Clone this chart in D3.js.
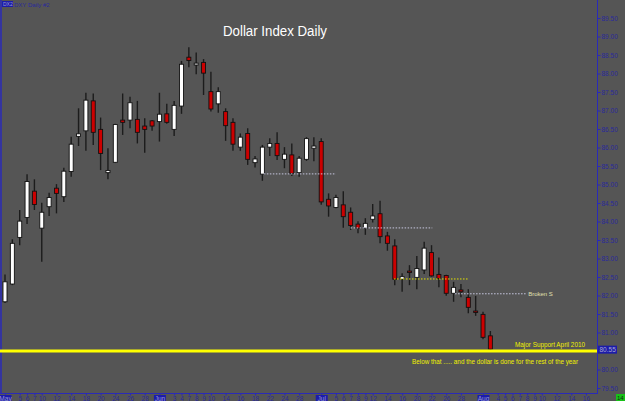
<!DOCTYPE html>
<html>
<head>
<meta charset="utf-8">
<script src="https://cdn.jsdelivr.net/npm/d3@7"></script>
<style>
  body { margin: 0; background: #555555; }
  svg { display: block; }
</style>
</head>
<body>
<div id="chart"></div>
<script>
// daily OHLC, May 3 2010 .. Aug 3 2010
var opens  = [81.83,82.31,83.57,84.11,84.82,83.82,84.40,84.90,84.67,85.35,86.30,86.45,87.26,86.49,85.32,85.60,86.74,86.74,86.76,86.58,86.72,86.70,86.91,86.49,87.12,88.44,88.23,88.30,87.51,87.18,86.97,86.68,86.01,86.38,85.59,85.28,86.01,86.11,85.68,85.80,85.32,85.68,85.98,86.16,84.60,84.38,84.45,84.25,83.93,83.82,84.06,84.21,83.61,83.34,82.44,82.66,82.49,82.69,83.16,82.57,82.54,82.06,82.15,81.95,81.58,81.49,80.91];
var highs  = [82.57,83.52,84.31,85.28,85.14,84.51,84.78,85.01,85.45,86.29,87.06,87.48,87.46,86.81,85.98,86.64,87.46,87.37,87.26,86.79,86.74,87.48,87.18,87.26,88.34,88.71,88.57,88.39,88.05,87.63,87.06,86.79,86.38,86.52,85.77,86.07,86.25,86.41,86.01,86.11,85.77,86.28,86.28,86.25,84.76,84.72,84.82,84.38,84.01,84.09,84.47,84.56,83.72,83.52,82.60,82.82,83.07,83.45,83.36,83.03,82.56,82.37,82.31,82.17,81.99,81.56,81.04];
var lows   = [81.80,82.28,83.36,83.93,84.31,82.91,84.15,84.22,84.53,85.21,86.04,85.91,86.07,85.39,85.14,85.58,86.34,86.52,86.11,85.86,86.45,86.16,86.64,86.31,86.91,88.17,87.98,87.42,86.97,86.94,86.18,85.91,85.91,85.53,85.46,85.10,85.77,85.66,85.44,85.23,85.21,85.64,85.63,84.45,84.13,84.36,83.83,83.77,83.68,83.64,83.97,83.41,83.21,82.28,82.10,82.28,82.17,82.58,82.51,82.22,81.99,81.83,81.95,81.52,81.45,80.82,80.53];
var closes = [82.37,83.41,84.01,85.08,84.46,84.25,84.65,84.76,85.36,86.09,86.37,87.28,86.41,85.84,85.38,86.62,86.68,87.21,86.41,86.49,86.58,86.90,86.68,87.14,88.25,88.35,88.28,88.01,87.04,87.51,86.59,86.09,86.28,85.68,85.69,86.01,86.11,85.78,85.82,85.30,85.71,86.24,86.04,84.53,84.42,84.65,84.13,83.89,83.82,83.95,84.15,83.59,83.41,82.44,82.51,82.62,82.73,83.28,82.53,82.46,82.06,82.22,82.10,81.68,81.54,80.87,80.55];

// x-axis labels by bar index
var tickIdx  = [0,2,3,4,5,7,9,11,13,15,17,19,21,23,24,25,26,27,28,30,32,34,36,38,40,43,45,46,47,48,49,50,52,54,56,58,60,62,65,67,68,69,70,71,72,73,75,77,79];
var tickText = ["May","5","6","7","10","12","14","18","20","24","26","28","Jun","3","4","7","8","9","10","14","16","18","22","24","28","Jul","5","6","7","8","9","12","14","16","20","22","26","28","Aug","4","5","6","7","8","9","10","12","14","16"];
var monthNames = ["May","Jun","Jul","Aug"];

var priceTicks = [79.5,80,80.5,81,81.5,82,82.5,83,83.5,84,84.5,85,85.5,86,86.5,87,87.5,88,88.5,89,89.5];

// drawn levels
var levelValues = [85.30, 83.84, 82.46, 82.06];
var levelStart  = [35.2, 47.0, 52.9, 61.2];
var levelEnd    = [45.0, 58.1, 63.0, 71.0];
var supportValue = 80.50;
var lastPrice = 80.55;

var width = 625, height = 401;
var axisX = 597, axisY = 393;

var svg = d3.select('#chart').append('svg')
    .attr('width', width)
    .attr('height', height)
    .style('font-family', 'Arial, "Liberation Sans", sans-serif');

svg.append('rect').attr('width', width).attr('height', height).attr('fill', '#555555');

var x = d3.scaleLinear().domain([0, 80.5]).range([5, axisX]);
var y = d3.scaleLinear().domain([79.5, 89.5]).range([388, 18]);

// frame lines
svg.append('line').attr('x1', 1).attr('x2', 1).attr('y1', 0).attr('y2', axisY)
    .attr('stroke', '#2a2ab8').attr('stroke-width', 1.5);
svg.append('line').attr('x1', axisX + 0.5).attr('x2', axisX + 0.5).attr('y1', 0).attr('y2', axisY)
    .attr('stroke', '#2a2ab8').attr('stroke-width', 1);
svg.append('line').attr('x1', 0).attr('x2', axisX + 1).attr('y1', axisY + 0.5).attr('y2', axisY + 0.5)
    .attr('stroke', '#2a2ab8').attr('stroke-width', 1);

// price axis
var yAxis = svg.append('g')
    .attr('transform', 'translate(' + (axisX + 0.5) + ',0)')
    .call(d3.axisRight(y).tickValues(priceTicks).tickFormat(d3.format('.2f')).tickSize(3).tickPadding(1));
yAxis.select('.domain').remove();
yAxis.selectAll('line').attr('stroke', '#2a2ab8');
yAxis.selectAll('text').attr('fill', '#2a2a9c').attr('font-size', 6.5);
// the tick under the last-price marker is covered in the original
yAxis.selectAll('.tick').filter(function(d){ return Math.abs(d - lastPrice) < 0.2; })
    .select('text').remove();

// time axis
var xAxis = svg.append('g')
    .attr('transform', 'translate(0,' + (axisY + 0.5) + ')')
    .call(d3.axisBottom(x).tickValues(tickIdx).tickFormat(function(d, i){ return tickText[i]; }).tickSize(2).tickPadding(1));
xAxis.select('.domain').remove();
xAxis.selectAll('line').attr('stroke', '#2a2ab8');
xAxis.selectAll('text').attr('fill', '#2a2a9c').attr('font-size', 6.5);
xAxis.selectAll('.tick').each(function(d, i){
    if (monthNames.indexOf(tickText[i]) >= 0) {
        var g = d3.select(this);
        g.insert('rect', 'text')
            .attr('x', -6).attr('y', 1.5).attr('width', 12).attr('height', 7)
            .attr('fill', '#1c1caa');
        g.select('text').attr('fill', '#9a9ad0');
    }
});

// candles
var bars = d3.range(opens.length).map(function(i){
    return { i: i, o: opens[i], h: highs[i], l: lows[i], c: closes[i] };
});

svg.append('g').selectAll('line')
    .data(bars).enter().append('line')
    .attr('x1', function(d){ return x(d.i); })
    .attr('x2', function(d){ return x(d.i); })
    .attr('y1', function(d){ return y(d.h); })
    .attr('y2', function(d){ return y(d.l); })
    .attr('stroke', '#1c1c1c')
    .attr('stroke-width', 1.4);

svg.append('g').selectAll('rect')
    .data(bars).enter().append('rect')
    .attr('x', function(d){ return x(d.i) - 2; })
    .attr('width', 4)
    .attr('y', function(d){ return y(Math.max(d.o, d.c)); })
    .attr('height', function(d){ return Math.max(1, Math.abs(y(d.o) - y(d.c))); })
    .attr('fill', function(d){ return d.c >= d.o ? '#ffffff' : '#cc0000'; })
    .attr('stroke', '#111111')
    .attr('stroke-width', 0.9);

// dotted levels
svg.append('g').selectAll('line')
    .data(levelValues).enter().append('line')
    .attr('x1', function(d, i){ return x(levelStart[i]); })
    .attr('x2', function(d, i){ return x(levelEnd[i]); })
    .attr('y1', function(d){ return y(d) + 0.5; })
    .attr('y2', function(d){ return y(d) + 0.5; })
    .attr('stroke', function(d, i){ return i == 2 ? '#e4e400' : '#c8c8e0'; })
    .attr('stroke-width', 1)
    .attr('stroke-dasharray', '1.5,1.5');

svg.append('text')
    .attr('x', x(levelEnd[3]) + 1).attr('y', y(levelValues[3]) + 2.5)
    .attr('fill', '#e0e0b0').attr('font-size', 6)
    .text('Broken S');

// major support
svg.append('line')
    .attr('x1', 0).attr('x2', axisX)
    .attr('y1', y(supportValue)).attr('y2', y(supportValue))
    .attr('stroke', '#ffff00').attr('stroke-width', 3);

svg.append('text')
    .attr('x', 515).attr('y', 347)
    .attr('fill', '#f0f000').attr('font-size', 8)
    .attr('textLength', 70).attr('lengthAdjust', 'spacingAndGlyphs')
    .text('Major Support April 2010');

svg.append('text')
    .attr('x', 412).attr('y', 364)
    .attr('fill', '#f0f000').attr('font-size', 8)
    .attr('textLength', 166).attr('lengthAdjust', 'spacingAndGlyphs')
    .text('Below that ..... and the dollar is done for the rest of the year');

// last price marker
svg.append('rect')
    .attr('x', axisX + 1).attr('y', y(lastPrice) - 3.5).attr('width', 19).attr('height', 8)
    .attr('fill', '#1c1caa');
svg.append('text')
    .attr('x', axisX + 2.5).attr('y', y(lastPrice) + 2.8)
    .attr('fill', '#a8a8d0').attr('font-size', 6.5)
    .text(d3.format('.2f')(lastPrice));

// corner box
svg.append('rect').attr('x', 616).attr('y', 394).attr('width', 9).attr('height', 7).attr('fill', '#18c018');
svg.append('text').attr('x', 617).attr('y', 400).attr('fill', '#103010').attr('font-size', 6).text('14');

// title + symbol
svg.append('text')
    .attr('x', 275).attr('y', 36)
    .attr('text-anchor', 'middle')
    .attr('fill', '#ffffff').attr('font-size', 14)
    .attr('textLength', 104).attr('lengthAdjust', 'spacingAndGlyphs')
    .text('Dollar Index Daily');

svg.append('rect').attr('x', 2).attr('y', 1).attr('width', 11).attr('height', 6).attr('fill', '#1c1caa');
svg.append('text').attr('x', 3).attr('y', 6).attr('fill', '#9a9ad0').attr('font-size', 5).text('DX2');
svg.append('text').attr('x', 14).attr('y', 6.5).attr('fill', '#2a2a9c').attr('font-size', 6).text('DXY Daily #2');
</script>
</body>
</html>
